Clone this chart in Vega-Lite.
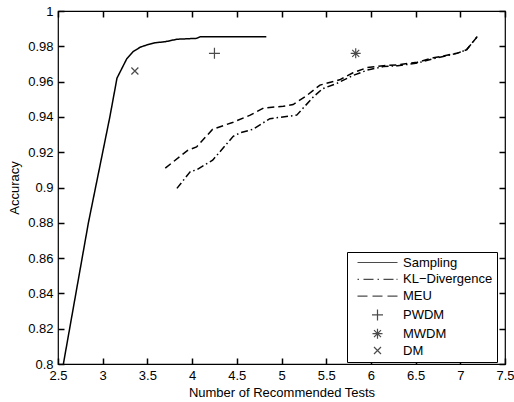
{
  "$schema": "https://vega.github.io/schema/vega-lite/v6.json",
  "width": 447,
  "height": 353,
  "autosize": {"type": "none"},
  "padding": {"left": 58, "top": 11, "right": 9, "bottom": 38},
  "background": "white",
  "config": {
    "font": "Liberation Sans",
    "view": {"stroke": "black", "strokeWidth": 1.2},
    "axis": {
      "zindex": 1,
      "domain": false,
      "labelColor": "black",
      "titleColor": "black",
      "labelFont": "Liberation Sans",
      "titleFont": "Liberation Sans",
      "labelFontSize": 13,
      "titleFontSize": 13,
      "titleFontWeight": "normal",
      "grid": false,
      "labelFlush": false,
      "labelOverlap": false,
      "labelBound": false
    },
    "legend": {
      "orient": "none",
      "legendX": 289,
      "legendY": 241,
      "strokeColor": "black",
      "fillColor": "white",
      "padding": 4,
      "rowPadding": 2.8,
      "labelFont": "Liberation Sans",
      "labelFontSize": 13,
      "labelColor": "black",
      "labelOffset": 39,
      "labelLimit": 300,
      "symbolSize": 100,
      "symbolStrokeColor": "black",
      "symbolStrokeWidth": 1.2,
      "symbolFillColor": "transparent",
      "cornerRadius": 0,
      "zindex": 2
    }
  },
  "datasets": {
    "lines": [
      {"method": "Sampling", "tests": 2.56, "acc": 0.8},
      {"method": "Sampling", "tests": 2.84, "acc": 0.88},
      {"method": "Sampling", "tests": 2.92, "acc": 0.9},
      {"method": "Sampling", "tests": 3.08, "acc": 0.94},
      {"method": "Sampling", "tests": 3.16, "acc": 0.962},
      {"method": "Sampling", "tests": 3.21, "acc": 0.967},
      {"method": "Sampling", "tests": 3.27, "acc": 0.973},
      {"method": "Sampling", "tests": 3.34, "acc": 0.977},
      {"method": "Sampling", "tests": 3.42, "acc": 0.9795},
      {"method": "Sampling", "tests": 3.49, "acc": 0.9807},
      {"method": "Sampling", "tests": 3.585, "acc": 0.982},
      {"method": "Sampling", "tests": 3.7, "acc": 0.9826},
      {"method": "Sampling", "tests": 3.83, "acc": 0.984},
      {"method": "Sampling", "tests": 4.05, "acc": 0.9845},
      {"method": "Sampling", "tests": 4.09, "acc": 0.9854},
      {"method": "Sampling", "tests": 4.83, "acc": 0.9854},
      {"method": "KL−Divergence", "tests": 3.83, "acc": 0.8995},
      {"method": "KL−Divergence", "tests": 3.98, "acc": 0.909},
      {"method": "KL−Divergence", "tests": 4.05, "acc": 0.91},
      {"method": "KL−Divergence", "tests": 4.23, "acc": 0.9155},
      {"method": "KL−Divergence", "tests": 4.46, "acc": 0.929},
      {"method": "KL−Divergence", "tests": 4.54, "acc": 0.931},
      {"method": "KL−Divergence", "tests": 4.68, "acc": 0.933},
      {"method": "KL−Divergence", "tests": 4.87, "acc": 0.939},
      {"method": "KL−Divergence", "tests": 5.17, "acc": 0.941},
      {"method": "KL−Divergence", "tests": 5.35, "acc": 0.951},
      {"method": "KL−Divergence", "tests": 5.46, "acc": 0.956},
      {"method": "KL−Divergence", "tests": 5.62, "acc": 0.959},
      {"method": "KL−Divergence", "tests": 5.8, "acc": 0.9635},
      {"method": "KL−Divergence", "tests": 5.96, "acc": 0.9665},
      {"method": "KL−Divergence", "tests": 6.14, "acc": 0.9685},
      {"method": "KL−Divergence", "tests": 6.3, "acc": 0.969},
      {"method": "KL−Divergence", "tests": 6.52, "acc": 0.9705},
      {"method": "KL−Divergence", "tests": 6.7, "acc": 0.973},
      {"method": "KL−Divergence", "tests": 6.96, "acc": 0.976},
      {"method": "KL−Divergence", "tests": 7.07, "acc": 0.978},
      {"method": "KL−Divergence", "tests": 7.19, "acc": 0.9855},
      {"method": "MEU", "tests": 3.7, "acc": 0.911},
      {"method": "MEU", "tests": 3.95, "acc": 0.921},
      {"method": "MEU", "tests": 4.05, "acc": 0.923},
      {"method": "MEU", "tests": 4.23, "acc": 0.933},
      {"method": "MEU", "tests": 4.46, "acc": 0.937},
      {"method": "MEU", "tests": 4.65, "acc": 0.941},
      {"method": "MEU", "tests": 4.8, "acc": 0.945},
      {"method": "MEU", "tests": 5.02, "acc": 0.946},
      {"method": "MEU", "tests": 5.13, "acc": 0.947},
      {"method": "MEU", "tests": 5.28, "acc": 0.952},
      {"method": "MEU", "tests": 5.43, "acc": 0.958},
      {"method": "MEU", "tests": 5.65, "acc": 0.961},
      {"method": "MEU", "tests": 5.8, "acc": 0.965},
      {"method": "MEU", "tests": 5.96, "acc": 0.968},
      {"method": "MEU", "tests": 6.14, "acc": 0.969},
      {"method": "MEU", "tests": 6.3, "acc": 0.9695},
      {"method": "MEU", "tests": 6.52, "acc": 0.971},
      {"method": "MEU", "tests": 6.7, "acc": 0.9735},
      {"method": "MEU", "tests": 6.96, "acc": 0.976},
      {"method": "MEU", "tests": 7.07, "acc": 0.978},
      {"method": "MEU", "tests": 7.19, "acc": 0.9855}
    ],
    "markers": [
      {"method": "PWDM", "tests": 4.25, "acc": 0.976},
      {"method": "MWDM", "tests": 5.83, "acc": 0.976},
      {"method": "DM", "tests": 3.36, "acc": 0.966}
    ]
  },
  "layer": [
    {
      "data": {"name": "lines"},
      "mark": {"type": "line", "color": "black", "strokeWidth": 1.5},
      "encoding": {
        "x": {
          "field": "tests",
          "type": "quantitative",
          "scale": {"domain": [2.5, 7.5], "nice": false, "zero": false},
          "axis": {
            "orient": "bottom",
            "values": [2.5, 3, 3.5, 4, 4.5, 5, 5.5, 6, 6.5, 7, 7.5],
            "format": ".1~f",
            "title": "Number of Recommended Tests",
            "ticks": true,
            "tickColor": "#000000",
            "tickOpacity": 1,
            "tickWidth": 1.5,
            "tickSize": -6,
            "labelPadding": 11,
            "titlePadding": 4
          }
        },
        "y": {
          "field": "acc",
          "type": "quantitative",
          "scale": {"domain": [0.8, 1], "nice": false, "zero": false},
          "axis": {
            "orient": "left",
            "values": [0.8, 0.82, 0.84, 0.86, 0.88, 0.9, 0.92, 0.94, 0.96, 0.98, 1],
            "format": ".2~f",
            "title": "Accuracy",
            "ticks": true,
            "tickColor": "#000000",
            "tickOpacity": 1,
            "tickWidth": 1.5,
            "tickSize": -6,
            "labelPadding": 11,
            "titlePadding": 6
          }
        },
        "strokeDash": {
          "field": "method",
          "type": "nominal",
          "scale": {"domain": ["Sampling", "KL−Divergence", "MEU"], "range": [[1, 0], [7, 3, 1.5, 3], [7, 4]]},
          "legend": null
        }
      }
    },
    {
      "data": {"name": "markers"},
      "mark": {"type": "point", "filled": false, "color": "black", "size": 100, "strokeWidth": 1.2, "xOffset": -20},
      "encoding": {
        "x": {
          "field": "tests",
          "type": "quantitative",
          "axis": {
            "orient": "top",
            "values": [2.5, 3, 3.5, 4, 4.5, 5, 5.5, 6, 6.5, 7, 7.5],
            "labels": false,
            "title": null,
            "ticks": true,
            "tickColor": "#000000",
            "tickOpacity": 1,
            "tickWidth": 1.5,
            "tickSize": -6
          }
        },
        "y": {
          "field": "acc",
          "type": "quantitative",
          "axis": {
            "orient": "right",
            "values": [0.8, 0.82, 0.84, 0.86, 0.88, 0.9, 0.92, 0.94, 0.96, 0.98, 1],
            "labels": false,
            "title": null,
            "ticks": true,
            "tickColor": "#000000",
            "tickOpacity": 1,
            "tickWidth": 1.5,
            "tickSize": -6
          }
        },
        "shape": {
          "field": "method",
          "type": "nominal",
          "scale": {
            "domain": ["Sampling", "KL−Divergence", "MEU", "PWDM", "MWDM", "DM"],
            "range": [
              "M0,0H8",
              "M0,0H0.3M1.2,0H3.2M4,0H4.3M5.2,0H7.2M7.8,0H8",
              "M0,0H2M3,0H5M6,0H8",
              "M2.9,0H5.1M4,-1.1V1.1",
              "M3,0H5M4,-1V1M3.3,-0.7L4.7,0.7M3.3,0.7L4.7,-0.7",
              "M3.3,-0.7L4.7,0.7M3.3,0.7L4.7,-0.7"
            ]
          },
          "legend": {"title": null}
        }
      }
    }
  ],
  "resolve": {"axis": {"x": "independent", "y": "independent"}}
}
